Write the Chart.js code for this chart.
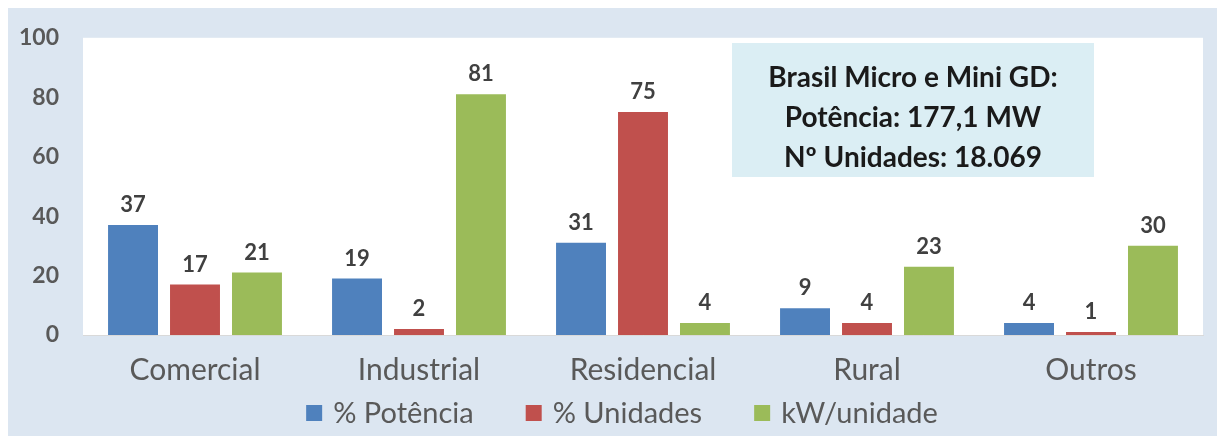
<!DOCTYPE html>
<html>
<head>
<meta charset="utf-8">
<script src="https://cdn.jsdelivr.net/npm/chart.js@4"></script>
<style>
  html, body { margin: 0; padding: 0; background: #ffffff; }
  #wrap { width: 1217px; height: 436px; }
</style>
</head>
<body>
<div id="wrap"><canvas id="myChart" width="1217" height="436"></canvas></div>
<script>
// dados
var categorias = ['Comercial', 'Industrial', 'Residencial', 'Rural', 'Outros'];
var potencia = [37, 19, 31, 9, 4];
var unidades = [17, 2, 75, 4, 1];
var kwUnidade = [21, 81, 4, 23, 30];
var caixaTexto = ['Brasil Micro e Mini GD:', 'Potência: 177,1 MW', 'Nº Unidades: 18.069'];

var FONTE = 'Lato, "Open Sans", sans-serif';

// fundo azul claro + área branca do gráfico
var fundoPlugin = {
    id: 'fundo',
    beforeDraw: function (chart) {
        var c = chart.ctx, a = chart.chartArea;
        c.save();
        c.fillStyle = '#dce6f1';
        c.fillRect(8, 8, chart.width - 8, chart.height - 8);
        c.fillStyle = '#ffffff';
        c.fillRect(a.left, a.top, a.right - a.left, a.bottom - a.top);
        c.restore();
    }
};

// rótulos sobre as barras, caixa de texto e legenda
var rotulosPlugin = {
    id: 'rotulos',
    afterDatasetsDraw: function (chart) {
        var c = chart.ctx;
        c.save();
        c.font = 'bold 22px ' + FONTE;
        c.fillStyle = '#404040';
        c.textAlign = 'center';
        c.textBaseline = 'bottom';
        chart.data.datasets.forEach(function (ds, i) {
            chart.getDatasetMeta(i).data.forEach(function (bar, j) {
                c.fillText(ds.data[j], bar.x, bar.y - 9);
            });
        });

        // caixa
        var x0 = 732, y0 = 43, w = 362, h = 134;
        c.fillStyle = '#dbeef4';
        c.fillRect(x0, y0, w, h);
        c.fillStyle = '#1a1a1a';
        c.font = 'bold 28px ' + FONTE;
        c.textBaseline = 'middle';
        caixaTexto.forEach(function (t, k) {
            c.fillText(t, x0 + w / 2, 78 + k * 40);
        });

        // legenda
        c.font = '29px ' + FONTE;
        c.textAlign = 'left';
        var box = 16, gapTxt = 11, gapItem = 52, total = 0;
        var larg = chart.data.datasets.map(function (ds) { return c.measureText(ds.label).width; });
        larg.forEach(function (l) { total += box + gapTxt + l; });
        total += gapItem * (larg.length - 1);
        var x = 622 - total / 2, yc = 413;
        chart.data.datasets.forEach(function (ds, i) {
            c.fillStyle = ds.backgroundColor;
            c.fillRect(x, yc - 8, box, box);
            c.fillStyle = '#595959';
            c.fillText(ds.label, x + box + gapTxt, yc + 1);
            x += box + gapTxt + larg[i] + gapItem;
        });
        c.restore();
    }
};

var ctx = document.getElementById('myChart').getContext('2d');
var myChart = new Chart(ctx, {
    type: 'bar',
    data: {
        labels: categorias,
        datasets: [
            { label: '% Potência', data: potencia, backgroundColor: '#4f81bd' },
            { label: '% Unidades', data: unidades, backgroundColor: '#c0504d' },
            { label: 'kW/unidade', data: kwUnidade, backgroundColor: '#9bbb59' }
        ]
    },
    options: {
        responsive: false,
        animation: false,
        devicePixelRatio: 1,
        categoryPercentage: 0.83,
        barPercentage: 0.806,
        layout: { padding: { left: 0, top: 36, right: 14, bottom: 41 } },
        plugins: {
            legend: { display: false },
            tooltip: { enabled: false }
        },
        scales: {
            x: {
                grid: { display: false, drawTicks: false },
                border: { display: true, color: '#d9d9d9', width: 1 },
                ticks: { color: '#595959', padding: 17, font: { family: FONTE, size: 30 } },
                afterFit: function (s) { s.height = 60; }
            },
            y: {
                min: 0,
                max: 100,
                grid: { display: false, drawTicks: false },
                border: { display: false },
                ticks: { stepSize: 20, color: '#595959', padding: 24, font: { family: FONTE, size: 23, weight: 'bold' } },
                afterFit: function (s) { s.width = 83; }
            }
        }
    },
    plugins: [fundoPlugin, rotulosPlugin]
});
</script>
</body>
</html>
